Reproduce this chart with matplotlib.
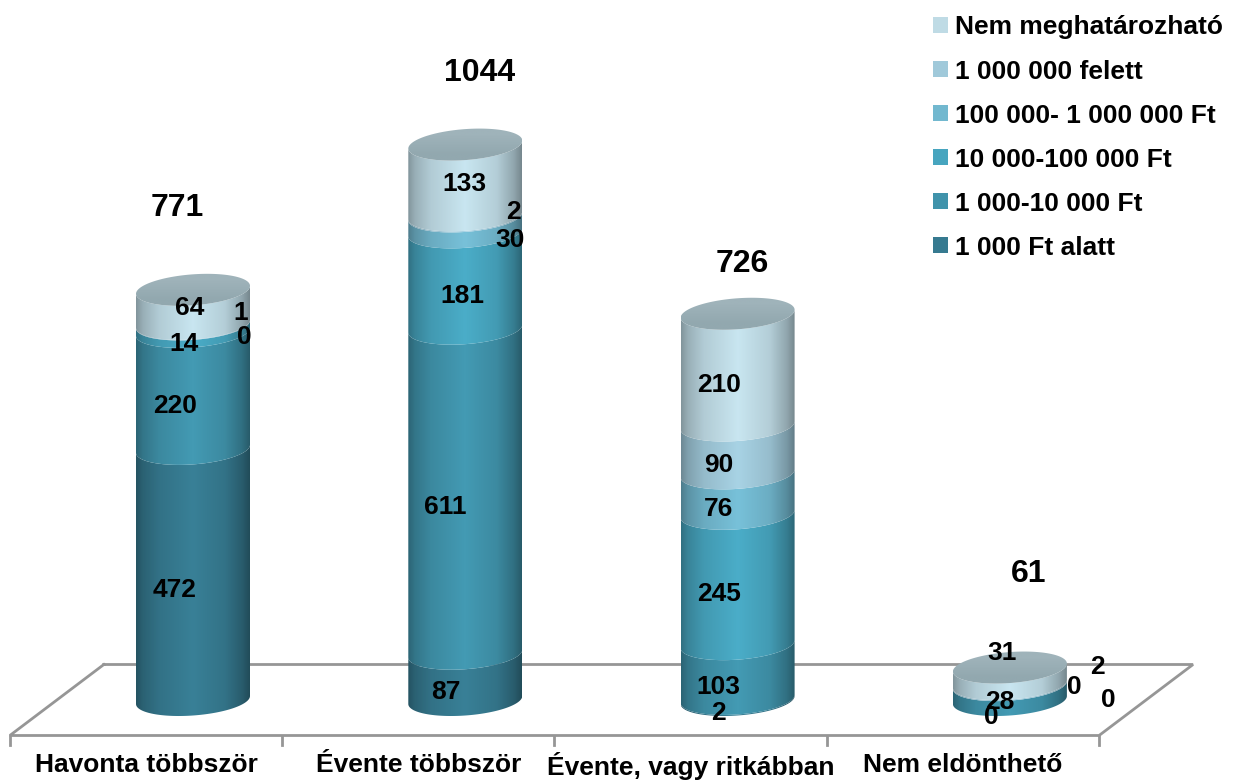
import numpy as np
import matplotlib
matplotlib.use("Agg")
import matplotlib.pyplot as plt
from matplotlib.patches import Patch, Polygon
from matplotlib.colors import to_rgb

plt.rcParams["font.family"] = ["Liberation Sans", "DejaVu Sans"]
plt.rcParams["font.weight"] = "bold"

categories = ["Havonta többször", "Évente többször", "Évente, vagy ritkábban", "Nem eldönthető"]
series_names = ["1 000 Ft alatt", "1 000-10 000 Ft", "10 000-100 000 Ft",
                "100 000- 1 000 000 Ft", "1 000 000 felett", "Nem meghatározható"]
under_1000 = [472, 87, 2, 0]
from_1000 = [220, 611, 103, 28]
from_10000 = [14, 181, 245, 0]
from_100000 = [0, 30, 76, 0]
over_1000000 = [1, 2, 90, 2]
undetermined = [64, 133, 210, 31]
series = [under_1000, from_1000, from_10000, from_100000, over_1000000, undetermined]
totals = [771, 1044, 726, 61]
colors = ["#367a90", "#4093ab", "#47a5bf", "#72b8cf", "#a0c9da", "#bfdbe5"]

# label nudges in pixels from the middle of each segment (per category, per series)
nudge = [
    [(-18, 0), (-18, 0), (-9, 0), (51, -3), (48, -27), (-3, -14)],
    [(-19, 0), (-20, 0), (-3, 0), (45, 0), (48, -19), (-1, -11)],
    [(-19, -2), (-19, 0), (-19, 0), (-19, 0), (-19, 0), (-19, 0)],
    [(-19, 2), (-10, -6), (64, -14), (98, -1), (88, -33), (-8, -38)],
]
total_nudge = [(-16, 82), (14, 72), (5, 50), (19, 94)]

W, H = 1234, 780
PX_X = 272.3          # pixels per category
PX_Y = 0.532          # pixels per count
X0, Y0 = 193, 700     # pixel of first bar centre, count 0
A = 57 / PX_X         # cylinder half width
B = 15.5 / PX_Y       # ellipse half height
TILT = 4 / PX_Y
FRONT = 35.5 / PX_Y   # floor half depth
SHIFT = 47 / PX_X


def shaded(color):
    stops = [0, 0.06, 0.2, 0.5, 0.78, 0.93, 1]
    gains = [0.68, 0.8, 0.93, 1.05, 0.94, 0.76, 0.62]
    gain = np.interp(np.linspace(0, 1, 200), stops, gains)
    rgb = np.array(to_rgb(color))
    return np.clip(gain[None, :, None] * rgb[None, None, :], 0, 1)


def fill(ax, pts, img, extent, z):
    im = ax.imshow(img, extent=extent, aspect="auto", zorder=z, interpolation="bilinear")
    im.set_clip_path(Polygon(pts, closed=True, transform=ax.transData))


fig = plt.figure(figsize=(W / 100, H / 100), dpi=100)
ax = fig.add_axes([0, 0, 1, 1])
ax.axis("off")
xlim = (-X0 / PX_X, (W - X0) / PX_X)
ylim = ((Y0 - H) / PX_Y, Y0 / PX_Y)

# floor
n = len(categories)
fx0, fx1 = -0.5 - SHIFT, n - 0.5 - SHIFT
bx0, bx1 = -0.5 + SHIFT, n - 0.5 + SHIFT
ax.plot([bx0, bx1, fx1, fx0, bx0], [FRONT, FRONT, -FRONT, -FRONT, FRONT],
        color="#969696", lw=2, zorder=1, solid_joinstyle="miter")
for i in range(n + 1):
    ax.plot([fx0 + i, fx0 + i], [-FRONT, -FRONT - 9 / PX_Y], color="#969696", lw=2, zorder=1)
    if i < n:
        ax.text(fx0 + i + 0.5, -FRONT - 30 / PX_Y, categories[i], ha="center", va="center",
                fontsize=19, zorder=6)

# cylinders
t_front = np.linspace(np.pi, 2 * np.pi, 80)
t_full = np.linspace(0, 2 * np.pi, 160)
for i in range(n):
    base = 0
    ext = [i - A, i + A, -80, 1300]
    for j, values in enumerate(series):
        v = values[i]
        if v > 0:
            xs = i + A * np.cos(t_front)
            low = base + B * np.sin(t_front) + TILT * np.cos(t_front)
            high = base + v + B * np.sin(t_front) + TILT * np.cos(t_front)
            pts = np.vstack([np.c_[xs, low], np.c_[xs[::-1], high[::-1]]])
            fill(ax, pts, shaded(colors[j]), ext, 2 + j * 0.1)
        dx, dy = nudge[i][j]
        if v > 0 or i != 2:
            ax.annotate(str(v), (i, base + v / 2 - B), xytext=(dx, -dy), textcoords="offset pixels",
                        ha="center", va="center", fontsize=19, zorder=7)
        base += v
    # top cap
    cap = np.c_[i + A * np.cos(t_full), base + B * np.sin(t_full) + TILT * np.cos(t_full)]
    img = np.array([[to_rgb("#9fb3ba")], [to_rgb("#92a8af")]])
    fill(ax, cap, img, [i - A, i + A, base - B - TILT, base + B + TILT], 3)
    dx, dy = total_nudge[i]
    ax.annotate(str(totals[i]), (i, base), xytext=(dx, dy), textcoords="offset pixels",
                ha="center", va="center", fontsize=23, zorder=7)

handles = [Patch(facecolor=c, edgecolor="none") for c in colors[::-1]]
ax.legend(handles, series_names[::-1], loc="upper left", bbox_to_anchor=(915 / W, 1 + 3 / H),
          bbox_transform=fig.transFigure, frameon=False, fontsize=19, ncol=1,
          labelspacing=0.76, handlelength=0.55, handleheight=0.55, handletextpad=0.25,
          borderpad=0.2)

ax.set_xlim(xlim)
ax.set_ylim(ylim)
fig.savefig("out.png", dpi=100)
